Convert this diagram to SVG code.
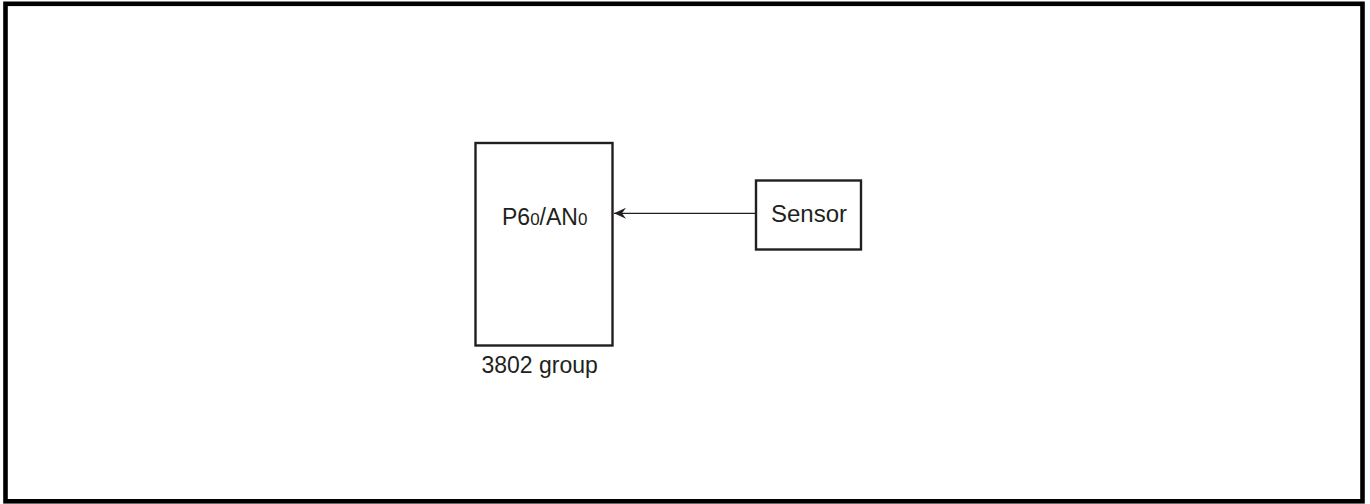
<svg xmlns="http://www.w3.org/2000/svg" width="1370" height="504" viewBox="0 0 1370 504">
<style>
.t{font-family:"Liberation Sans",Arial,sans-serif;fill:#231f20;font-size:23px}
.s{font-size:17px}
.box{fill:#fff;stroke:#231f20;stroke-width:2.4}
</style>
<defs>
<marker id="ah" markerUnits="userSpaceOnUse" markerWidth="14" markerHeight="12" refX="12" refY="6" orient="auto">
<path d="M12,6 L0,0.5 L4,6 L0,11.5 Z" fill="#231f20"/>
</marker>
</defs>
<rect x="5.5" y="3.8" width="1357" height="497.5" fill="#fff" stroke="#000" stroke-width="4.6"/>
<g id="mcu">
<rect class="box" x="475.5" y="143" width="137" height="202.5"/>
<text class="t" x="502" y="225">P6<tspan class="s">0</tspan>/AN<tspan class="s">0</tspan></text>
<text class="t" x="481.5" y="373.3">3802 group</text>
</g>
<g id="sensor">
<rect class="box" x="756" y="180.5" width="105" height="69"/>
<text class="t" x="771" y="221.7" style="font-size:24px">Sensor</text>
</g>
<g id="connectors">
<line x1="755" y1="213.3" x2="614" y2="213.3" stroke="#231f20" stroke-width="1.3" marker-end="url(#ah)"/>
</g>
</svg>
